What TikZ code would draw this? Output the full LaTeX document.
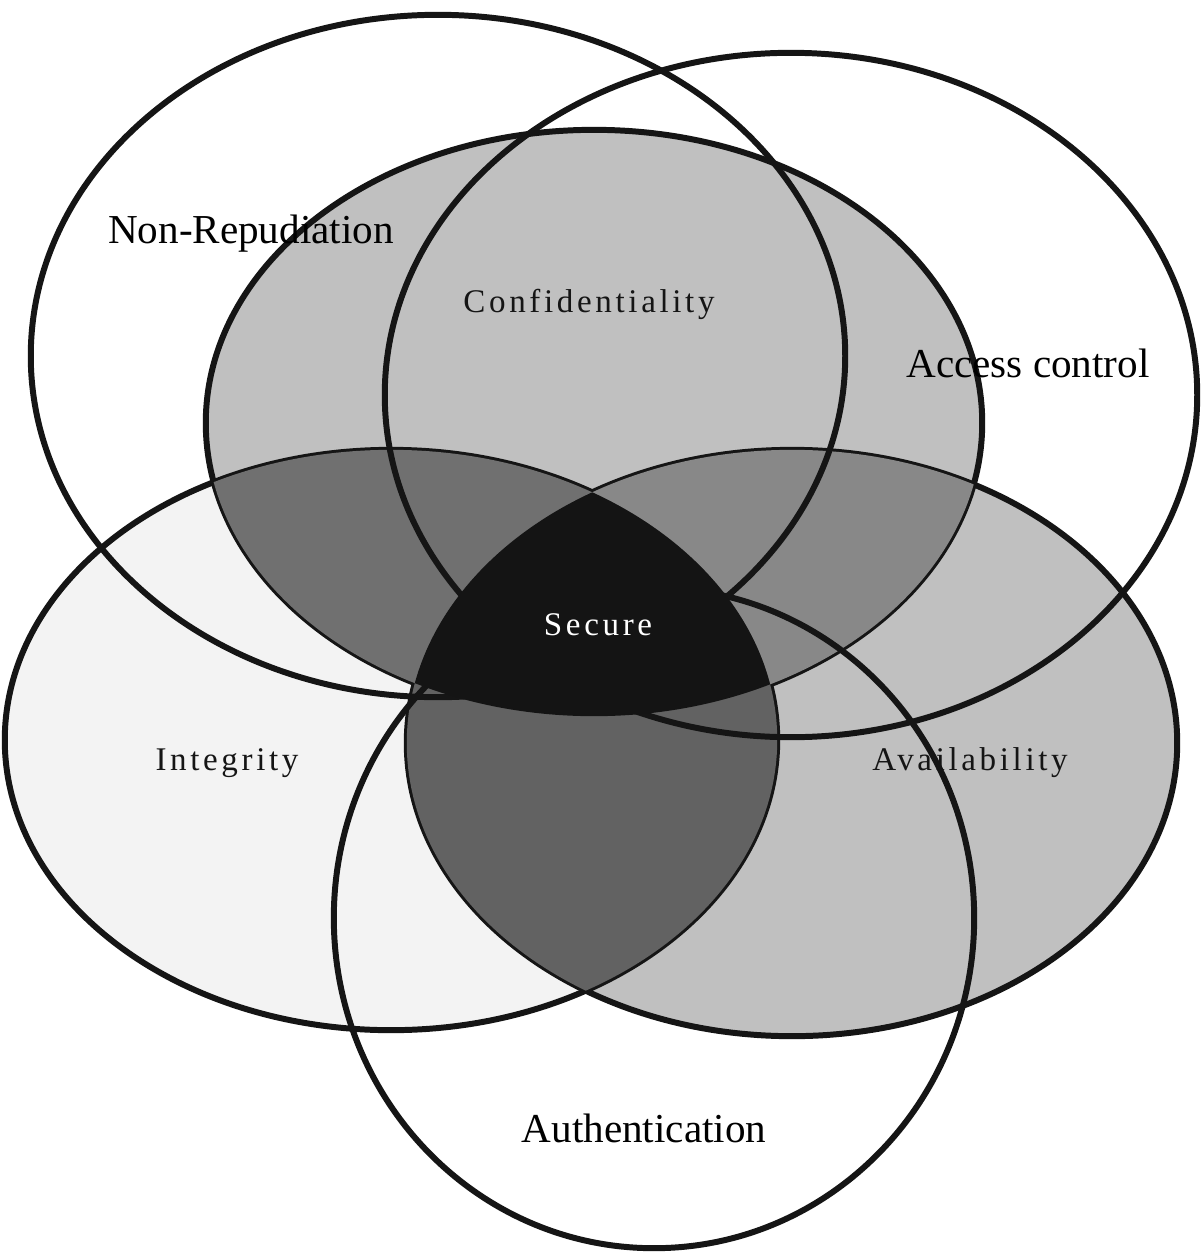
\documentclass[tikz,border=0pt]{standalone}
\usepackage{fontspec}
\setmainfont{Liberation Serif}
\newfontfamily\spaced[LetterSpace=11]{Liberation Serif}
\definecolor{lc}{HTML}{151515}
\definecolor{gI}{HTML}{F3F3F3}
\definecolor{gC}{HTML}{C0C0C0}
\definecolor{gCI}{HTML}{707070}
\definecolor{gCA}{HTML}{888888}
\definecolor{gIA}{HTML}{626262}
\definecolor{gS}{HTML}{141414}
\def\nonrep{(438,356) ellipse [x radius=4.07cm, y radius=3.41cm]}
\def\access{(791,395) ellipse [x radius=4.06cm, y radius=3.42cm]}
\def\conf{(594,423) ellipse [x radius=3.88cm, y radius=2.93cm]}
\def\integ{(391,740) ellipse [x radius=3.86cm, y radius=2.90cm]}
\def\avail{(792,743) ellipse [x radius=3.85cm, y radius=2.93cm]}
\def\auth{(654,918) ellipse [x radius=3.20cm, y radius=3.30cm]}
\tikzset{
  outline/.style={draw=lc, line width=1.7pt},
  biglabel/.style={anchor=base, inner sep=0pt, text=black, font=\fontsize{11.7pt}{14pt}\selectfont},
  smalllabel/.style={anchor=base, inner sep=0pt, text=lc, font=\spaced\fontsize{9.4pt}{11pt}\selectfont},
}
\begin{document}
\begin{tikzpicture}[x=0.01cm, y=-0.01cm]
\useasboundingbox (0,0) rectangle (1204,1254);
\fill[white] (0,0) rectangle (1204,1254);
% base fills
\fill[gI] \integ;
\fill[gC] \avail;
\fill[gC] \conf;
% outlines of the shaded sets
\draw[outline] \integ;
\draw[outline] \avail;
\draw[outline] \conf;
% overlaps
\begin{scope}
  \clip \conf;
  \fill[gCI] \integ;
  \fill[gCA] \avail;
\end{scope}
\begin{scope}
  \clip \integ;
  \fill[gIA] \avail;
\end{scope}
% outline-only sets
\draw[outline] \nonrep;
\draw[outline] \access;
\draw[outline] \auth;
% secure region
\begin{scope}
  \clip \conf;
  \clip \integ;
  \fill[gS] \avail;
\end{scope}
% labels
\node[biglabel] (nr) at (251,243) {Non-Repudiation};
\node[biglabel] (ac) at (1028,377) {Access control};
\node[biglabel] (au) at (644,1142) {Authentication};
\node[smalllabel] (co) at (589,312) {Confidentiality};
\node[smalllabel] (in) at (227,770) {Integrity};
\node[smalllabel] (av) at (970,770) {Availability};
\node[smalllabel, text=white] (se) at (598,635) {Secure};
\end{tikzpicture}
\end{document}
